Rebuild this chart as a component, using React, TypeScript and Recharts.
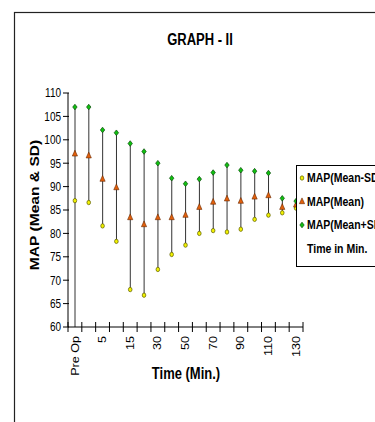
import { ComposedChart, XAxis, YAxis, Bar, Line } from "recharts";

const times = ["Pre Op", "0", "5", "10", "15", "20", "30", "40", "50", "60", "70", "80", "90", "100", "110", "120", "130"];
const meanMinusSD = [87.0, 86.6, 81.6, 78.3, 68.0, 66.8, 72.3, 75.5, 77.5, 80.0, 80.6, 80.3, 80.9, 83.0, 83.9, 84.4, 85.4];
const meanValues = [97.0, 96.6, 91.6, 89.8, 83.4, 81.9, 83.4, 83.4, 83.9, 85.6, 86.7, 87.4, 86.9, 87.8, 88.1, 85.6, 86.1];
const meanPlusSD = [107.0, 107.0, 102.1, 101.5, 99.2, 97.5, 95.0, 91.8, 90.6, 91.6, 93.0, 94.6, 93.5, 93.3, 92.9, 87.5, 86.9];
// "Time in Min." series: only the Pre Op value falls in range (at the axis floor), it stretches the first high-low line
const timeInMin: (number | null)[] = [60, null, null, null, null, null, null, null, null, null, null, null, null, null, null, null, null];
const yTicks = [60, 65, 70, 75, 80, 85, 90, 95, 100, 105, 110];
const legendNames = ["MAP(Mean-SD)", "MAP(Mean)", "MAP(Mean+SD)", "Time in Min."];

const FONT = "'Liberation Sans', Arial, sans-serif";

const data = times.map((t, i) => ({
  idx: i,
  time: t,
  low: meanMinusSD[i],
  mean: meanValues[i],
  high: meanPlusSD[i],
  span: [Math.min(meanMinusSD[i], timeInMin[i] ?? Infinity), meanPlusSD[i]],
}));

// boundaries between categories get the tick marks, centres get the labels
const xTicks = times.flatMap((_, i) => [i - 0.5, i]).concat(times.length - 0.5);

function XTick(props: any) {
  const { x, y, payload } = props;
  const v = payload.value as number;
  if (!Number.isInteger(v)) {
    return <line x1={x} x2={x} y1={y - 5} y2={y + 5} stroke="#000" />;
  }
  if (v % 2 !== 0) return <g />;
  return (
    <g transform={`translate(${x},${y + 9}) scale(1,1.2) rotate(-90)`}>
      <text x={0} y={0} textAnchor="end" dominantBaseline="central" fontSize={10.5} fontFamily={FONT} fill="#000">
        {times[v]}
      </text>
    </g>
  );
}

function YTick(props: any) {
  const { x, y, payload } = props;
  return (
    <g>
      <line x1={x - 5} x2={x + 1} y1={y} y2={y} stroke="#000" />
      <g transform={`translate(${x - 7},${y}) scale(1,1.2)`}>
        <text x={0} y={0} textAnchor="end" dominantBaseline="central" fontSize={10} fontFamily={FONT} fill="#000">
          {payload.value}
        </text>
      </g>
    </g>
  );
}

function HighLow(props: any) {
  const { x, y, width, height } = props;
  if (x == null || y == null) return <g />;
  const cx = x + width / 2;
  return <line x1={cx} x2={cx} y1={y} y2={y + height} stroke="#333" strokeWidth={1} />;
}

function LowMark({ cx, cy }: { cx: number; cy: number }) {
  return <ellipse cx={cx} cy={cy} rx={1.8} ry={2.2} fill="#F2F200" stroke="#5a5a00" strokeWidth={0.7} />;
}
function MeanMark({ cx, cy }: { cx: number; cy: number }) {
  return (
    <polygon
      points={`${cx},${cy - 3.6} ${cx - 2.6},${cy + 2.2} ${cx + 2.6},${cy + 2.2}`}
      fill="#E2600C"
      stroke="#6a2800"
      strokeWidth={0.6}
    />
  );
}
function HighMark({ cx, cy }: { cx: number; cy: number }) {
  return (
    <polygon
      points={`${cx},${cy - 2.8} ${cx + 2.2},${cy} ${cx},${cy + 2.8} ${cx - 2.2},${cy}`}
      fill="#10C010"
      stroke="#0a4a0a"
      strokeWidth={0.7}
    />
  );
}

const legendMarks = [LowMark, MeanMark, HighMark, null];

export default function App() {
  return (
    <div style={{ position: "absolute", left: 0, top: 0, width: 375, height: 422, overflow: "hidden", background: "#fff" }}>
      <ComposedChart
        width={375}
        height={422}
        data={data}
        margin={{ top: 93, right: 72, bottom: 55, left: 28 }}
      >
        <XAxis
          dataKey="idx"
          type="number"
          domain={[-0.5, times.length - 0.5]}
          ticks={xTicks}
          interval={0}
          tick={<XTick />}
          tickLine={false}
          tickSize={0}
          tickMargin={0}
          height={40}
          axisLine={{ stroke: "#000" }}
        />
        <YAxis
          domain={[60, 110]}
          ticks={yTicks}
          interval={0}
          allowDataOverflow
          tick={<YTick />}
          tickLine={false}
          tickSize={0}
          tickMargin={0}
          width={40}
          axisLine={{ stroke: "#000" }}
        />
        <Bar dataKey="span" barSize={2} shape={<HighLow />} isAnimationActive={false} />
        <Line
          dataKey="low"
          stroke="none"
          dot={(p: any) => <LowMark key={`l${p.index}`} cx={p.cx} cy={p.cy} />}
          activeDot={false}
          isAnimationActive={false}
        />
        <Line
          dataKey="mean"
          stroke="none"
          dot={(p: any) => <MeanMark key={`m${p.index}`} cx={p.cx} cy={p.cy} />}
          activeDot={false}
          isAnimationActive={false}
        />
        <Line
          dataKey="high"
          stroke="none"
          dot={(p: any) => <HighMark key={`h${p.index}`} cx={p.cx} cy={p.cy} />}
          activeDot={false}
          isAnimationActive={false}
        />
      </ComposedChart>

      <svg width={375} height={422} style={{ position: "absolute", left: 0, top: 0, pointerEvents: "none" }}>
        <rect x={14.5} y={12.5} width={500} height={500} fill="none" stroke="#222" strokeWidth={1.2} />
        <g transform="translate(200,39.5) scale(1,1.2)">
          <text textAnchor="middle" dominantBaseline="central" fontSize={13} fontWeight="bold" fontFamily={FONT}>
            GRAPH - II
          </text>
        </g>
        <g transform="translate(34,205) scale(1,1.2) rotate(-90)">
          <text textAnchor="middle" dominantBaseline="central" fontSize={13} fontWeight="bold" fontFamily={FONT}>
            MAP (Mean &amp; SD)
          </text>
        </g>
        <g transform="translate(186,374) scale(1,1.2)">
          <text textAnchor="middle" dominantBaseline="central" fontSize={13} fontWeight="bold" fontFamily={FONT}>
            Time (Min.)
          </text>
        </g>
        <rect x={296.5} y={165.5} width={120} height={101} fill="#fff" stroke="#000" strokeWidth={1} />
        {legendNames.map((name, i) => {
          const y = 178 + i * 23.5;
          const Mark = legendMarks[i];
          return (
            <g key={name}>
              {Mark && <Mark cx={302} cy={y} />}
              <g transform={`translate(307,${y}) scale(1,1.2)`}>
                <text dominantBaseline="central" fontSize={10.5} fontWeight="bold" fontFamily={FONT}>
                  {name}
                </text>
              </g>
            </g>
          );
        })}
      </svg>
    </div>
  );
}
